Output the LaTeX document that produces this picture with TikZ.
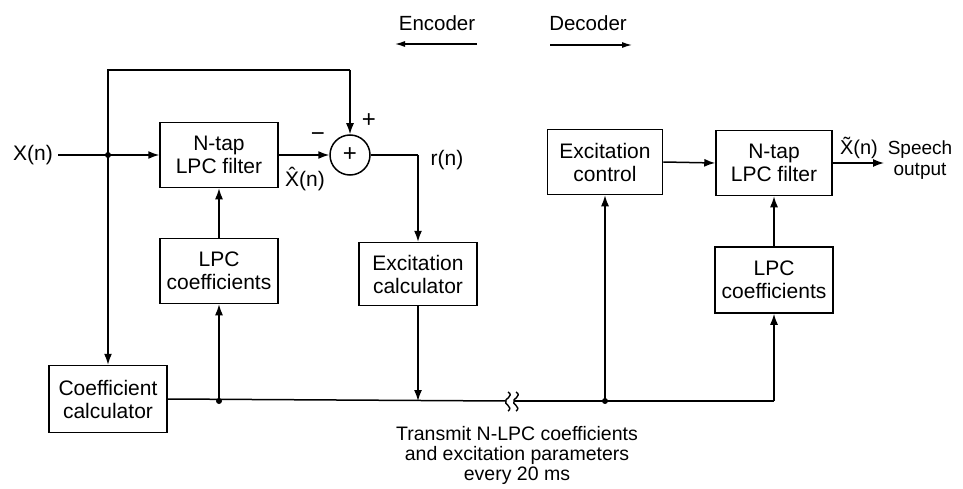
\documentclass[tikz,border=0pt]{standalone}
\usepackage{fontspec}
\setmainfont{Liberation Sans}
\usetikzlibrary{arrows.meta}
\begin{document}
\begin{tikzpicture}[x=1pt,y=-1pt,
  txt/.style={font=\fontsize{21}{23}\selectfont},
  blk/.style={draw,line width=1.5pt,inner sep=0pt,align=center,txt,minimum width=118pt,minimum height=65pt},
  wire/.style={line width=1.5pt},
  arr/.style={wire,-{Latex[length=11pt,width=8pt]}},
  lbl/.style={txt,inner sep=0pt,align=center}]
\useasboundingbox[fill=white] (0,0) rectangle (963,489);

% blocks
\node[blk] (filt1) at (219,155) {N-tap\\LPC filter};
\node[blk] (lpc1) at (219,271) {LPC\\coefficients};
\node[blk,minimum height=67pt] (coefc) at (108,399) {Coefficient\\calculator};
\node[blk,minimum height=63pt] (excc) at (418,274) {Excitation\\calculator};
\node[blk,minimum width=115pt] (exctl) at (605,162) {Excitation\\control};
\node[blk,minimum width=116pt] (filt2) at (774,163) {N-tap\\LPC filter};
\node[blk,minimum height=66pt] (lpc2) at (774,280) {LPC\\coefficients};
\node[draw,circle,line width=1.5pt,minimum size=40pt,inner sep=0pt,font=\fontsize{24}{24}\selectfont] (sum) at (350,155) {+};

% coordinates
\coordinate (xin) at (58,155);
\coordinate (j1) at (108,155);
\coordinate (top1) at (108,70);
\coordinate (top2) at (350,70);
\coordinate (rcorner) at (418,155);
\coordinate (busA) at (506,401);
\coordinate (busB) at (521,401);
\coordinate (j2) at (219,401);
\coordinate (j3) at (418,401);
\coordinate (j4) at (605,401);
\coordinate (busend) at (774,401);
\coordinate (out) at (884,163);

% connectors
\draw[arr] (xin) -- (filt1.west);
\draw[wire] (j1) -- (top1) -- (top2);
\draw[arr] (top2) -- (sum.north);
\draw[arr] (j1) -- (coefc.north);
\draw[arr] (filt1.east) -- (sum.west);
\draw[wire] (sum.east) -- (rcorner);
\draw[arr] (rcorner) -- (excc.north);
\draw[wire] (coefc.east) -- (busA);
\draw[wire] (busB) -- (busend);
\draw[arr] (busend) -- (lpc2.south);
\draw[arr] (j2) -- (lpc1.south);
\draw[arr] (lpc1.north) -- (filt1.south);
\draw[arr] (excc.south) -- (j3);
\draw[arr] (j4) -- (exctl.south);
\draw[arr] (exctl.east) -- (filt2.west);
\draw[arr] (lpc2.north) -- (filt2.south);
\draw[arr] (filt2.east) -- (out);

% junction dots
\fill (j1) circle (3pt);
\fill (j2) circle (3pt);
\fill (j4) circle (3pt);

% break symbol on the bus
\draw[line width=1.4pt] (508,392) .. controls (515,396) and (503,400) .. (busA);
\draw[line width=1.4pt] (busA) .. controls (503,404) and (514,407) .. (508,411);
\draw[line width=1.4pt] (516,392) .. controls (523,396) and (511,400) .. (514,401);
\draw[line width=1.4pt] (514,401) .. controls (511,404) and (522,407) .. (516,411);
\draw[wire] (514,401) -- (busB);

% labels
\node[lbl] (lx) at (33,155) {X(n)};
\node[lbl] (lxh) at (305,179) {\^{X}(n)};
\node[lbl,font=\fontsize{24}{24}\selectfont] (lminus) at (318,137) {\textminus};
\node[lbl,font=\fontsize{24}{24}\selectfont] (lplus) at (369,121) {+};
\node[lbl] (lr) at (447,160) {r(n)};
\node[lbl,font=\fontsize{20}{22}\selectfont] (lxt) at (859,148) {\~{X}(n)};
\node[lbl,font=\fontsize{19}{21}\selectfont] (lsp) at (920,160) {Speech\\output};
\node[lbl,font=\fontsize{20.5}{22}\selectfont] (lenc) at (437,23) {Encoder};
\node[lbl,font=\fontsize{20.5}{22}\selectfont] (ldec) at (588,23) {Decoder};
\coordinate (ea1) at (477,44);
\coordinate (ea2) at (395,44);
\coordinate (da1) at (550,45);
\coordinate (da2) at (632,45);
\draw[line width=1.2pt,-{Latex[length=10pt,width=6pt]}] (ea1) -- (ea2);
\draw[line width=1.2pt,-{Latex[length=10pt,width=6pt]}] (da1) -- (da2);
\node[lbl,font=\fontsize{19.5}{20}\selectfont] (ltr) at (517,455) {Transmit N-LPC coefficients\\and excitation parameters\\every 20 ms};
\end{tikzpicture}
\end{document}
